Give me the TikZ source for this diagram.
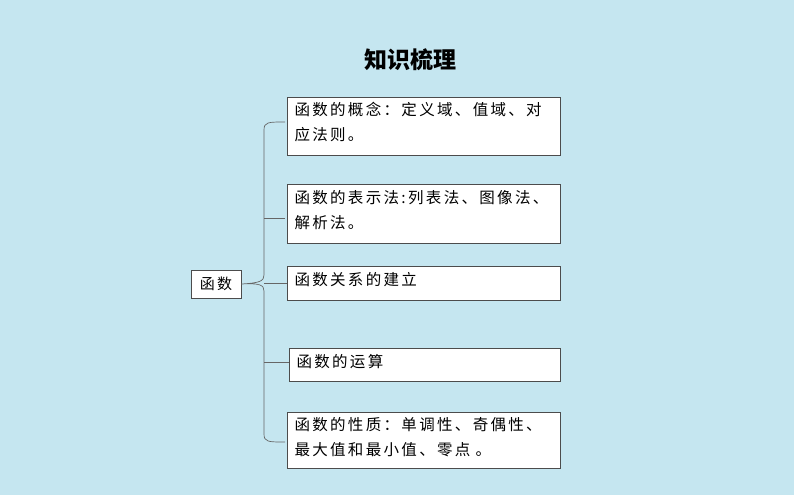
\documentclass[tikz,border=0pt]{standalone}
\usepackage{fontspec}
\newfontfamily\cjk{Noto Sans CJK SC}
\newfontfamily\cjks[LetterSpace=15]{Noto Sans CJK SC}
\begin{document}
\begin{tikzpicture}[x=1pt,y=-1pt,
 box/.style={draw=black!70,fill=white,line width=0.6pt,anchor=north west,inner sep=0pt},
 txt/.style={anchor=north west,font=\cjks\fontsize{15.5}{25}\selectfont,align=left,text width=268pt},
 ln/.style={draw=black!60,line width=0.7pt}]
\fill[fill={rgb,255:red,197;green,230;blue,240}] (0,0) rectangle (794,495);
\useasboundingbox (0,0) rectangle (794,495);
\node[font=\cjk\bfseries\fontsize{23}{26}\selectfont] (title) at (410,60) {知识梳理};
\node[draw=black!70,fill=white,minimum width=50pt,minimum height=28pt,font=\cjks\fontsize{15}{16}\selectfont] (f) at (216,284) {函数};
\draw[box] (287,97) rectangle (560,155);
\node[txt] (t1) at (291,99) {函数的概念：定义域、值域、对\\应法则。};
\draw[box] (287,184) rectangle (560,243);
\node[txt] (t2) at (291,187) {函数的表示法:列表法、图像法、\\解析法。};
\draw[box] (287,266) rectangle (560,300);
\node[txt] (t3) at (291,269) {函数关系的建立};
\draw[box] (289,348) rectangle (560,381);
\node[txt] (t4) at (293,351) {函数的运算};
\draw[box] (287,412) rectangle (560,468);
\node[txt] (t5) at (291,414) {函数的性质：单调性、奇偶性、\\最大值和最小值、零点 。};
\coordinate (b1) at (285,122);
\coordinate (b5) at (285,442);
\draw[ln] (b1) .. controls (268,122) and (264,122) .. (264,130) -- (264,275) .. controls (264,281) and (260,283) .. (f.east) .. controls (260,283) and (264,285) .. (264,291) -- (264,434) .. controls (264,442) and (268,442) .. (b5);
\draw[ln] (264,218) -- (285,218);
\draw[ln] (264,283) -- (287,283);
\draw[ln] (264,362) -- (289,362);
\end{tikzpicture}
\end{document}
